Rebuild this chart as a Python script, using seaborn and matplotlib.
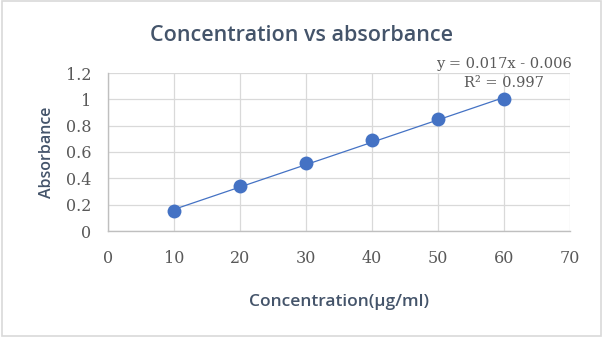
import numpy as np
import pandas as pd
import seaborn as sns
import matplotlib.pyplot as plt
from matplotlib.patches import Rectangle

concentration = [10, 20, 30, 40, 50, 60]
absorbance = [0.15, 0.34, 0.52, 0.69, 0.85, 1.00]
slope = 0.017
intercept = -0.006
r_squared = 0.997
x_ticks = [0, 10, 20, 30, 40, 50, 60, 70]
y_ticks = [0, 0.2, 0.4, 0.6, 0.8, 1, 1.2]
y_tick_labels = ["0", "0.2", "0.4", "0.6", "0.8", "1", "1.2"]

sns.set_theme(style="white")
text_col = "#44546A"
tick_col = "#595959"
blue = "#4472C4"
grid_col = "#D9D9D9"

df = pd.DataFrame({"Concentration": concentration, "Absorbance": absorbance})

fig = plt.figure(figsize=(6.03, 3.37), dpi=100)
ax = fig.add_axes([108 / 603, 1 - 231 / 337, (570 - 108) / 603, (231 - 73) / 337])

# linear trend line from the fitted equation
xs = np.array([concentration[0], concentration[-1]])
sns.lineplot(x=xs, y=slope * xs + intercept, ax=ax, color=blue, linewidth=0.9, zorder=2)
sns.scatterplot(data=df, x="Concentration", y="Absorbance", ax=ax, color=blue,
                s=100, edgecolor=blue, linewidth=0, zorder=3)

ax.set_xlim(0, 70)
ax.set_ylim(0, 1.2)
ax.set_xticks(x_ticks)
ax.set_yticks(y_ticks)
ax.set_yticklabels(y_tick_labels)
ax.grid(True, color=grid_col, linewidth=0.9)
ax.set_axisbelow(True)
for side in ["top", "right"]:
    ax.spines[side].set_visible(False)
for side in ["left", "bottom"]:
    ax.spines[side].set_color("#BFBFBF")
    ax.spines[side].set_linewidth(1)
ax.tick_params(axis="both", length=0, labelsize=11.5, labelcolor=tick_col)
ax.tick_params(axis="x", pad=14)
ax.tick_params(axis="y", pad=12)
for lab in ax.get_xticklabels() + ax.get_yticklabels():
    lab.set_fontfamily("DejaVu Serif")

ax.set_xlabel("Concentration(µg/ml)", fontsize=12.5, color=text_col,
              fontweight="semibold", family="Open Sans", labelpad=19)
ax.set_ylabel("Absorbance", fontsize=11.5, color=text_col,
              fontweight="semibold", family="Open Sans", labelpad=8)

fig.text(0.5, 0.895, "Concentration vs absorbance", ha="center", va="center",
         fontsize=15.5, color=text_col, fontweight="semibold", family="Open Sans")

ax.text(60, 1.265, f"y = {slope:.3f}x - {abs(intercept):.3f}", ha="center", va="center",
        fontsize=10.5, color=tick_col, family="DejaVu Serif")
ax.text(60, 1.125, f"R² = {r_squared:.3f}", ha="center", va="center",
        fontsize=10.5, color=tick_col, family="DejaVu Serif")

fig.patches.append(Rectangle((0.003, 0.003), 0.994, 0.994, transform=fig.transFigure,
                             fill=False, edgecolor="#D9D9D9", linewidth=1.2))

fig.savefig("out.png", dpi=100)
